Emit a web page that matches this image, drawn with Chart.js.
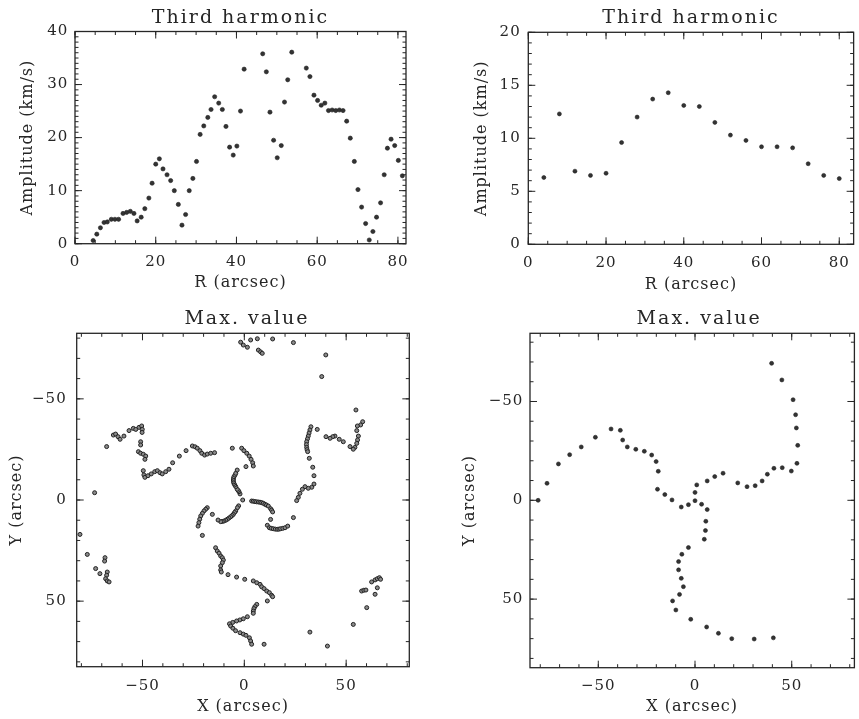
<!DOCTYPE html>
<html>
<head>
<meta charset="utf-8">
<title>Third harmonic / Max. value</title>
<script src="https://cdn.jsdelivr.net/npm/chart.js@4.4.1/dist/chart.umd.min.js"></script>
<style>
  body { margin: 0; background: #fff; }
  #page { position: relative; width: 859px; height: 719px; overflow: hidden; }
  canvas { position: absolute; }
</style>
</head>
<body>
<div id="page">
  <canvas id="amp-fine" width="430" height="300" style="left:0;top:0"></canvas>
  <canvas id="amp-coarse" width="429" height="300" style="left:430px;top:0"></canvas>
  <canvas id="max-fine" width="430" height="419" style="left:0;top:300px"></canvas>
  <canvas id="max-coarse" width="429" height="419" style="left:430px;top:300px"></canvas>
</div>
<script>
// third harmonic amplitude, fine radial sampling
const radiusFine = [
  4.5, 5.4, 6.3, 7.2, 8.0, 9.0, 9.9, 10.8, 11.9, 12.8, 13.7, 14.6, 15.4, 16.4, 17.3,
  18.3, 19.1, 20.0, 20.9, 21.8, 22.8, 23.7, 24.6, 25.6, 26.5, 27.4, 28.3, 29.2, 30.1, 31.0,
  31.9, 32.9, 33.7, 34.6, 35.6, 36.5, 37.4, 38.3, 39.2, 40.1, 41.0, 41.9,
  46.5, 47.4, 48.3, 49.2, 50.1, 51.1, 51.9, 52.7, 53.7,
  57.3, 58.2, 59.2, 60.1, 61.0, 61.9, 62.8, 63.7, 64.6, 65.5, 66.4, 67.3, 68.2, 69.2, 70.1,
  71.0, 72.0, 72.9, 73.8, 74.7, 75.7, 76.6, 77.4, 78.3, 79.2, 80.1, 81.1
];
const ampFine = [
  0.6, 1.8, 3.0, 4.0, 4.1, 4.6, 4.6, 4.6, 5.7, 5.9, 6.1, 5.7, 4.3, 5.0, 6.6,
  8.6, 11.4, 15.0, 16.0, 14.1, 13.0, 11.9, 10.0, 7.4, 3.5, 5.5, 10.0, 12.3, 15.5, 20.6,
  22.2, 23.8, 25.3, 27.7, 26.5, 25.3, 22.1, 18.2, 16.7, 18.4, 25.0, 32.9,
  35.8, 32.4, 24.8, 19.5, 16.2, 18.5, 26.7, 30.9, 36.1,
  33.1, 31.5, 28.0, 27.0, 26.1, 26.5, 25.1, 25.2, 25.1, 25.2, 25.1, 23.1, 19.9, 15.5, 10.2,
  6.9, 3.8, 0.7, 2.3, 5.0, 7.7, 13.0, 18.0, 19.7, 18.5, 15.7, 12.8
];

// third harmonic amplitude, coarse rings
const radiusCoarse = [4, 8, 12, 16, 20, 24, 28, 32, 36, 40, 44, 48, 52, 56, 60, 64, 68, 72, 76, 80];
const ampCoarse = [6.3, 12.3, 6.9, 6.5, 6.7, 9.6, 12.0, 13.7, 14.3, 13.1, 13.0, 11.5, 10.3, 9.8, 9.2, 9.2, 9.1, 7.6, 6.5, 6.2];

// positions of the maximum, fine sampling (one line per arm)
const maxFineX = [
  -1.8, -0.5, 1.5, 3.1, 6.4, 6.9, 8.0, 8.8, 13.9, 24.1,
  40.0, 38.0,
  54.8, 58.1, 57.1, 55.5, 55.2, 56.0, 55.6, 55.2, 54.3, 53.5, 51.9, 48.6, 46.6, 44.5, 43.4, 42.1, 40.1, 35.8, 32.7, 32.2,
  31.8, 31.4, 31.0, 30.6, 30.5, 30.6, 30.8, 31.1, 31.9, 33.6, 34.2, 34.2, 33.1, 31.4, 29.8, 28.5, 27.3, 26.5, 25.7, 24.1,
  -0.8, 3.6, 4.4, 5.2, 6.0, 6.9, 7.7, 8.5, 9.3, 10.1, 10.9, 11.8, 12.9, 13.4, 13.9, 12.9, 11.3, 12.3, 13.2, 14.2, 15.2, 16.2, 17.0, 17.8, 18.9, 20.0, 21.3,
  -2.1, -2.6, -3.0, -3.5, -4.2, -4.7, -5.1, -5.3, -5.4, -5.3, -5.1, -4.6, -4.2, -3.5, 0.8, -5.9, -1.3, -0.2, 1.2, 2.4, 3.3, 4.1, 4.4,
  -2.8, -3.4, -4.2, -4.8, -5.4, -6.0, -6.7, -7.5, -8.3, -9.1, -10.0, -10.8, -11.6, -12.9, -15.7,
  -18.2, -19.0, -19.8, -20.6, -21.4, -21.9, -22.3, -22.7, -20.6,
  -14.1, -13.3, -12.4, -11.6, -10.8, -10.3, -10.8, -11.6, -11.6, -11.3, -8.0, -3.8, 0.2,
  4.4, 6.1, 7.7, 8.5, 9.7, 11.0, 12.3, 13.4, 13.9, 11.3,
  6.1, 5.2, 4.7, 4.4, 4.4, 1.5, -0.5, -2.2, -3.8, -5.7, -7.3, -6.7, -5.6, -4.3, -2.1, -0.5, 0.8, 2.5, 3.1, 3.6, 9.7,
  -67.6, -64.3, -63.2, -62.0, -61.0, -59.1, -56.6, -54.5, -53.3, -51.7, -50.4, -50.1, -50.2, -50.9, -50.9, -52.0, -50.9, -49.6, -48.4, -48.8,
  -49.6, -49.3, -48.8, -47.3, -45.7, -44.0, -42.7, -41.4, -40.3, -38.6, -37.0, -35.2, -31.9, -28.6, -25.5, -24.2, -23.1, -21.8, -20.9, -19.5,
  -18.2, -16.5, -14.6, -73.5,
  -80.7, -77.1, -73.0, -70.9, -68.4, -68.6, -67.3, -67.6, -68.1, -67.3, -66.4,
  57.6, 58.7, 59.7, 62.5, 64.2, 65.3, 66.3, 66.9, 65.3, 64.2, 60.1, 53.5, 32.2, 40.8
];
const maxFineY = [
  -78.0, -76.6, -75.5, -79.1, -79.7, -74.1, -73.2, -72.5, -79.6, -77.8,
  -71.7, -61.0,
  -44.5, -38.7, -37.1, -36.6, -34.3, -31.6, -29.7, -28.0, -26.0, -25.1, -26.4, -28.8, -30.0, -31.6, -31.3, -30.5, -31.3, -34.9, -36.2, -34.6,
  -33.1, -31.6, -30.2, -28.8, -27.4, -26.0, -24.9, -23.9, -20.6, -16.2, -12.0, -7.9, -6.3, -5.8, -6.6, -5.3, -3.3, -1.3, 0.3, 8.7,
  0.0, 0.5, 0.6, 0.8, 0.9, 1.0, 1.1, 1.3, 1.6, 2.1, 2.5, 3.0, 4.3, 5.0, 5.9, 9.6, 12.5, 13.7, 14.0, 14.2, 14.4, 14.5, 14.4, 14.2, 14.0, 13.7, 12.9,
  -3.0, -4.1, -4.7, -5.3, -6.6, -7.4, -8.2, -9.0, -9.9, -10.7, -11.5, -12.3, -13.2, -14.8, -16.5, -25.6, -25.6, -24.4, -23.1, -21.7, -20.1, -18.4, -16.8,
  2.9, 3.8, 5.4, 6.2, 7.1, 7.7, 8.3, 8.9, 9.5, 10.0, 10.4, 10.6, 10.7, 9.9, 7.1,
  3.8, 4.6, 5.4, 6.6, 7.9, 9.5, 11.2, 12.9, 17.5,
  23.6, 25.2, 26.3, 27.7, 28.5, 29.7, 31.0, 32.6, 34.6, 35.6, 36.9, 38.1, 39.2,
  40.0, 40.9, 41.7, 42.9, 43.8, 45.0, 45.8, 47.1, 47.8, 49.9,
  51.6, 52.7, 53.7, 54.9, 56.0, 57.7, 58.7, 59.3, 59.8, 60.5, 61.2, 62.3, 63.4, 64.6, 65.6, 66.3, 66.9, 68.1, 69.7, 71.3, 71.3,
  -26.4, -32.1, -32.6, -31.3, -30.0, -31.6, -34.3, -35.4, -34.9, -35.9, -36.6, -34.9, -33.4, -28.8, -27.2, -23.9, -23.1, -22.6, -21.7, -20.1,
  -14.5, -12.4, -11.2, -12.0, -12.9, -14.0, -14.5, -13.5, -12.9, -14.0, -15.2, -18.4, -21.7, -24.4, -26.7, -26.3, -25.6, -24.4, -23.1, -22.2,
  -22.7, -23.1, -23.4, -3.6,
  17.0, 26.9, 33.9, 36.4, 28.5, 30.2, 35.6, 37.2, 38.9, 40.0, 40.5,
  45.0, 44.6, 44.5, 40.5, 39.5, 38.9, 38.4, 39.2, 43.4, 46.6, 53.2, 61.5, 65.3, 72.2
];

// positions of the maximum, coarse sampling
const maxCoarseX = [
  -81.1, -76.5, -70.6, -64.8, -58.8, -51.5, -43.4, -38.6, -37.4, -35.0, -30.6, -26.2, -22.4, -20.1, -19.0,
  -19.4, -15.6, -11.9, -7.1, -3.4, 0.0, 3.4, 6.3, 5.6, 5.4, 4.8, -3.4, -6.8, -8.5, -8.5,
  -7.1, -6.0, -8.0, -11.6, -9.9, -2.2, 6.0, 12.1, 19.0, 30.6, 40.5,
  0.0, 0.9, 6.3, 10.2, 14.5, 22.1, 26.9, 31.1, 34.7, 37.4, 40.8, 45.1, 49.8, 52.7, 53.1, 52.4, 52.0, 50.7, 44.9, 39.6
];
const maxCoarseY = [
  0.0, -8.6, -18.4, -23.1, -27.0, -31.9, -36.1, -35.4, -30.5, -27.0, -25.8, -24.8, -22.9, -19.6, -14.7,
  -5.6, -2.9, -0.2, 3.4, 2.2, 0.2, 2.0, 4.7, 10.6, 15.3, 19.7, 23.9, 27.3, 31.0, 35.2,
  39.5, 43.7, 47.6, 50.9, 55.5, 60.2, 64.1, 67.3, 70.0, 70.2, 69.6,
  -4.0, -7.8, -9.8, -12.0, -13.7, -8.8, -6.9, -7.4, -9.8, -13.2, -16.2, -16.5, -14.8, -18.7, -27.8, -36.6, -43.3, -50.9, -60.9, -69.3
];

// tick values and labels
const radiusTicks = [0, 20, 40, 60, 80];
const ampFineTicks = [0, 10, 20, 30, 40];
const ampCoarseTicks = [0, 5, 10, 15, 20];
const posTicks = [-50, 0, 50];
const posTickLabels = ['\u221250', '0', '50'];

const ink = '#262626';
const serif = '"DejaVu Serif", "Liberation Serif", serif';

const zip = (xs, ys) => xs.map((x, i) => ({ x, y: ys[i] }));

// box with inward ticks on all four sides, plus the panel title
const framePlugin = {
  id: 'frame',
  beforeDraw(chart) {
    chart.ctx.letterSpacing = '1px';
  },
  afterDraw(chart, args, o) {
    const { ctx, chartArea: a, scales } = chart;
    ctx.save();
    ctx.strokeStyle = ink;
    ctx.lineWidth = 1.3;
    ctx.strokeRect(a.left, a.top, a.right - a.left, a.bottom - a.top);
    ctx.lineWidth = 1;
    ctx.beginPath();
    for (const [scale, steps] of [[scales.x, o.xSteps], [scales.y, o.ySteps]]) {
      steps.forEach((step, k) => {
        const len = k === 0 ? 7 : 3.5;
        for (let n = Math.ceil(scale.min / step); n * step <= scale.max; n++) {
          const p = scale.getPixelForValue(n * step);
          if (scale.isHorizontal()) {
            ctx.moveTo(p, a.bottom); ctx.lineTo(p, a.bottom - len);
            ctx.moveTo(p, a.top); ctx.lineTo(p, a.top + len);
          } else {
            ctx.moveTo(a.left, p); ctx.lineTo(a.left + len, p);
            ctx.moveTo(a.right, p); ctx.lineTo(a.right - len, p);
          }
        }
      });
    }
    ctx.stroke();
    ctx.fillStyle = ink;
    ctx.font = '19px ' + serif;
    ctx.letterSpacing = '2px';
    ctx.textAlign = 'center';
    ctx.textBaseline = 'alphabetic';
    ctx.fillText(o.title, (a.left + a.right) / 2 + o.shift, a.top - 9);
    ctx.restore();
  }
};

function axis(o) {
  return {
    type: 'linear',
    position: o.position,
    min: o.min,
    max: o.max,
    reverse: !!o.reverse,
    grid: { display: false, drawTicks: false },
    border: { display: false },
    afterBuildTicks: scale => { scale.ticks = o.ticks.map(value => ({ value })); },
    afterFit: scale => {
      if (o.position === 'bottom') scale.height = o.size;
      else scale.width = o.size;
    },
    ticks: {
      autoSkip: false,
      maxRotation: 0,
      padding: o.tickPad,
      color: ink,
      font: { family: serif, size: 15 },
      callback: (value, i) => o.labels[i]
    },
    title: {
      display: true,
      text: o.title,
      color: ink,
      font: { family: serif, size: 16 },
      padding: o.position === 'bottom' ? { top: 0, bottom: o.titlePad } : { top: o.titlePad, bottom: 0 }
    }
  };
}

function panel(id, cfg) {
  return new Chart(document.getElementById(id), {
    type: 'scatter',
    data: {
      datasets: [{
        data: cfg.points,
        pointRadius: cfg.radius,
        pointBackgroundColor: cfg.fill,
        pointBorderColor: '#222',
        pointBorderWidth: cfg.border
      }]
    },
    options: {
      responsive: false,
      animation: false,
      events: [],
      layout: { padding: cfg.padding },
      plugins: {
        legend: { display: false },
        tooltip: { enabled: false },
        frame: cfg.frame
      },
      scales: { x: cfg.x, y: cfg.y }
    },
    plugins: [framePlugin]
  });
}

const numLabels = ticks => ticks.map(String);

panel('amp-fine', {
  points: zip(radiusFine, ampFine),
  radius: 2.1, fill: '#333', border: 0.6,
  padding: { left: 0, top: 31.5, right: 24, bottom: 0 },
  frame: { title: 'Third harmonic', shift: 0, xSteps: [20, 5], ySteps: [10, 1] },
  x: axis({ position: 'bottom', min: 0, max: 82, ticks: radiusTicks, labels: numLabels(radiusTicks),
            size: 56.3, tickPad: 9, title: 'R (arcsec)', titlePad: 7.1 }),
  y: axis({ position: 'left', min: 0, max: 40, ticks: ampFineTicks, labels: numLabels(ampFineTicks),
            size: 75, tickPad: 6.7, title: 'Amplitude (km/s)', titlePad: 18.4 })
});

panel('amp-coarse', {
  points: zip(radiusCoarse, ampCoarse),
  radius: 2, fill: '#333', border: 0.6,
  padding: { left: 23.3, top: 32.3, right: 1.3, bottom: 0 },
  frame: { title: 'Third harmonic', shift: 0, xSteps: [20, 5], ySteps: [5, 1] },
  x: axis({ position: 'bottom', min: 0, max: 83.7, ticks: radiusTicks, labels: numLabels(radiusTicks),
            size: 55.7, tickPad: 10, title: 'R (arcsec)', titlePad: 5.4 }),
  y: axis({ position: 'left', min: 0, max: 20, ticks: ampCoarseTicks, labels: numLabels(ampCoarseTicks),
            size: 75, tickPad: 7.6, title: 'Amplitude (km/s)', titlePad: 18.8 })
});

panel('max-fine', {
  points: zip(maxFineX, maxFineY),
  radius: 2, fill: '#8a8a8a', border: 1,
  padding: { left: 1.7, top: 33.3, right: 20.7, bottom: 0 },
  frame: { title: 'Max. value', shift: 4, xSteps: [50, 10], ySteps: [50, 10] },
  x: axis({ position: 'bottom', min: -82.3, max: 81.0, ticks: posTicks, labels: posTickLabels,
            size: 52.3, tickPad: 10, title: 'X (arcsec)', titlePad: 2.7 }),
  y: axis({ position: 'left', min: -82.4, max: 82.4, reverse: true, ticks: posTicks, labels: posTickLabels,
            size: 75, tickPad: 10, title: 'Y (arcsec)', titlePad: 5.9 })
});

panel('max-coarse', {
  points: zip(maxCoarseX, maxCoarseY),
  radius: 2, fill: '#333', border: 0.6,
  padding: { left: 25, top: 33.3, right: 1.3, bottom: 0 },
  frame: { title: 'Max. value', shift: 7, xSteps: [50, 10], ySteps: [50, 10] },
  x: axis({ position: 'bottom', min: -85.3, max: 82.4, ticks: posTicks, labels: posTickLabels,
            size: 51.3, tickPad: 9, title: 'X (arcsec)', titlePad: 2.7 }),
  y: axis({ position: 'left', min: -84.5, max: 84.7, reverse: true, ticks: posTicks, labels: posTickLabels,
            size: 75, tickPad: 6.7, title: 'Y (arcsec)', titlePad: 5.4 })
});
</script>
</body>
</html>
